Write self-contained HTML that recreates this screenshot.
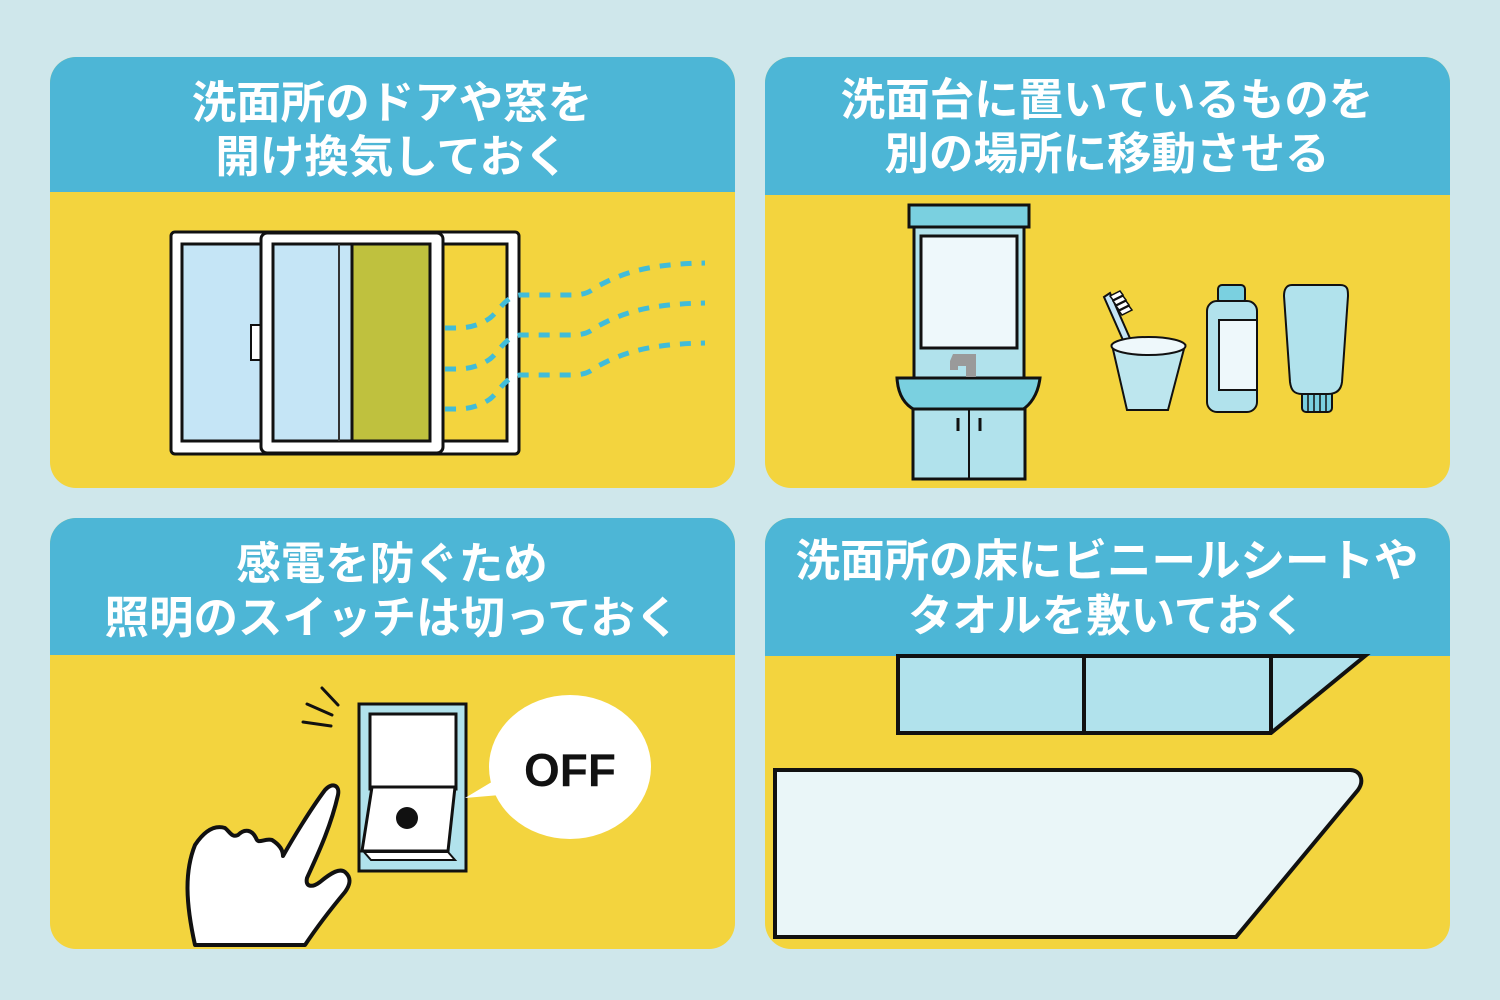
<!DOCTYPE html>
<html><head><meta charset="utf-8"><style>
html,body{margin:0;padding:0;background:#cfe7eb;}
svg{display:block}
text{font-family:"Liberation Sans","Noto Sans CJK JP",sans-serif;font-weight:bold;fill:#fff;}
</style></head><body>
<svg width="1500" height="1000" viewBox="0 0 1500 1000" xmlns="http://www.w3.org/2000/svg">
<rect width="1500" height="1000" fill="#cfe7eb"/>
<defs>
<clipPath id="c1"><rect x="50" y="57" width="685" height="431" rx="26"/></clipPath>
<clipPath id="c2"><rect x="765" y="57" width="685" height="431" rx="26"/></clipPath>
<clipPath id="c3"><rect x="50" y="518" width="685" height="431" rx="26"/></clipPath>
<clipPath id="c4"><rect x="765" y="518" width="685" height="431" rx="26"/></clipPath>
</defs>
<!-- card 1 -->
<g clip-path="url(#c1)">
<rect x="50" y="57" width="685" height="431" fill="#f3d43e"/>
<rect x="50" y="57" width="685" height="135" fill="#4db6d6"/>
</g>
<text x="392" y="118" font-size="44.5" text-anchor="middle">洗面所のドアや窓を</text>
<text x="392" y="172" font-size="44.5" text-anchor="middle">開け換気しておく</text>
<!-- window -->
<rect x="171" y="232" width="348" height="222" rx="4" fill="#fff" stroke="#111" stroke-width="3"/>
<rect x="182" y="244" width="100" height="197" fill="#c5e5f6" stroke="#111" stroke-width="3"/>
<rect x="427" y="244" width="80" height="197" fill="#f3d43e" stroke="#111" stroke-width="3"/>
<rect x="251" y="325" width="10" height="35" fill="#fff" stroke="#111" stroke-width="2"/>
<rect x="261" y="233" width="182" height="220" rx="6" fill="#fff" stroke="#111" stroke-width="3"/>
<rect x="273" y="244" width="80" height="197" fill="#c5e5f6" stroke="#111" stroke-width="3"/>
<line x1="339" y1="244" x2="339" y2="441" stroke="#333" stroke-width="2"/>
<rect x="352" y="244" width="78" height="197" fill="#bfc13e" stroke="#111" stroke-width="3"/>
<g fill="none" stroke="#41bcd8" stroke-width="5" stroke-dasharray="11,10">
<path d="M445 328 H455 C470 328 480 325 490 318 C500 310 505 297 520 295 H570 C590 295 590 290 600 285 C625 272 650 264 705 263"/>
<path d="M445 369 H455 C470 369 480 366 490 359 C500 351 505 337 520 335 H570 C590 335 590 330 600 325 C625 312 650 304 705 303"/>
<path d="M445 409 H455 C470 409 480 406 490 399 C500 391 505 377 520 375 H570 C590 375 590 370 600 365 C625 352 650 344 705 343"/>
</g>

<!-- card 2 -->
<g clip-path="url(#c2)">
<rect x="765" y="57" width="685" height="431" fill="#f3d43e"/>
<rect x="765" y="57" width="685" height="138" fill="#4db6d6"/>
</g>
<text x="1107" y="115" font-size="44.5" text-anchor="middle">洗面台に置いているものを</text>
<text x="1107" y="169" font-size="44.5" text-anchor="middle">別の場所に移動させる</text>
<g stroke="#111" stroke-width="3">
<rect x="914" y="226" width="110" height="160" fill="#b1e2ec"/>
<rect x="909" y="205" width="120" height="22" fill="#7ad0e0"/>
<rect x="921" y="236" width="96" height="112" fill="#eef8fb"/>
<path d="M897 378 H1040 C1038 395 1030 405 1022 410 H915 C905 405 898 395 897 378Z" fill="#7ad0e0"/>
<rect x="913" y="409" width="112" height="70" fill="#b1e2ec"/>
<line x1="969" y1="409" x2="969" y2="479" stroke-width="2"/>
<line x1="958" y1="418" x2="958" y2="431"/><line x1="980" y1="418" x2="980" y2="431"/>
</g>
<path d="M953 354 H976 V377 H966 V366 H958 V370 H950 V361 Z" fill="#9a9a9a"/>
<g stroke="#111" stroke-width="2">
<path d="M1104 297 L1110 293 L1136 352 L1130 356Z" fill="#c5e5f6"/>
<g stroke="#111" stroke-width="1.5" fill="#fff">
<path d="M1110 296 L1120 291 L1123 295 L1113 300Z"/>
<path d="M1113 301 L1123 296 L1126 300 L1116 305Z"/>
<path d="M1116 306 L1126 301 L1129 305 L1119 310Z"/>
<path d="M1119 311 L1129 306 L1132 310 L1122 315Z"/>
</g>
<path d="M1112 345 L1185 345 L1168 410 L1127 410 Z" fill="#bde6ee"/>
<ellipse cx="1148.5" cy="346" rx="37" ry="9" fill="#eef8fb"/>
<rect x="1218" y="285" width="27" height="18" rx="4" fill="#7ad0e0"/>
<rect x="1207" y="301" width="50" height="111" rx="10" fill="#b1e2ec"/>
<rect x="1219" y="320" width="38" height="70" fill="#eef8fb"/>
<rect x="1302" y="390" width="30" height="22" rx="4" fill="#7ad0e0"/>
<path d="M1308 395 V411 M1314 395 V411 M1320 395 V411 M1326 395 V411" stroke-width="1.5"/>
<path d="M1292 285 H1340 C1348 285 1348 290 1348 296 L1342 382 C1341 390 1336 394 1328 394 H1302 C1294 394 1291 390 1290 382 L1284 296 C1284 290 1286 285 1292 285Z" fill="#b1e2ec"/>
</g>

<!-- card 3 -->
<g clip-path="url(#c3)">
<rect x="50" y="518" width="685" height="431" fill="#f3d43e"/>
<rect x="50" y="518" width="685" height="137" fill="#4db6d6"/>
</g>
<text x="392" y="579" font-size="44.5" text-anchor="middle">感電を防ぐため</text>
<text x="392" y="633" font-size="44.5" text-anchor="middle">照明のスイッチは切っておく</text>
<g stroke="#111" stroke-width="3" stroke-linecap="round">
<line x1="322" y1="688" x2="338" y2="705"/><line x1="307" y1="704" x2="332" y2="715"/><line x1="303" y1="722" x2="331" y2="726"/>
<rect x="359" y="704" width="107" height="167" fill="#b1e2ec"/>
<rect x="370" y="714" width="86" height="75" fill="#fff"/>
<path d="M372 787 H455 L448 851 H362Z" fill="#fff"/>
<path d="M364 852 H448 L455 860 H371Z" fill="#fff" stroke-width="2"/>
</g>
<circle cx="407" cy="818" r="11" fill="#111"/>
<ellipse cx="570" cy="767" rx="81" ry="72" fill="#fff"/>
<path d="M495 780 L465 798 L500 795Z" fill="#fff"/>
<text x="570" y="786" font-size="46" text-anchor="middle" style="fill:#111;font-family:'Liberation Sans',sans-serif">OFF</text>
<path d="M195 945 C185 900 185 870 195 845 C205 830 215 825 225 828 C230 832 232 838 238 835 C245 828 252 830 256 838 C258 845 264 838 272 840 C280 845 283 850 283 856 C292 840 310 810 325 790 C332 782 340 785 338 795 C330 830 315 860 307 878 C305 887 312 888 320 882 C332 872 340 868 345 872 C352 878 350 885 345 892 C330 910 315 930 305 945Z" fill="#fff" stroke="#111" stroke-width="4" stroke-linejoin="round"/>

<!-- card 4 -->
<g clip-path="url(#c4)">
<rect x="765" y="518" width="685" height="431" fill="#f3d43e"/>
<rect x="765" y="518" width="685" height="138" fill="#4db6d6"/>
<path d="M898 656 V733 H1271 L1365 656Z" fill="#b1e2ec" stroke="#111" stroke-width="4"/>
<line x1="1084" y1="656" x2="1084" y2="733" stroke="#111" stroke-width="4"/>
<line x1="1271" y1="656" x2="1271" y2="733" stroke="#111" stroke-width="4"/>
<path d="M775 770 H1350 C1360 770 1365 780 1358 790 L1236 937 H775Z" fill="#eaf6f8" stroke="#111" stroke-width="4"/>
</g>
<text x="1107" y="576" font-size="44.5" text-anchor="middle">洗面所の床にビニールシートや</text>
<text x="1107" y="631" font-size="44.5" text-anchor="middle">タオルを敷いておく</text>
</svg>
</body></html>
